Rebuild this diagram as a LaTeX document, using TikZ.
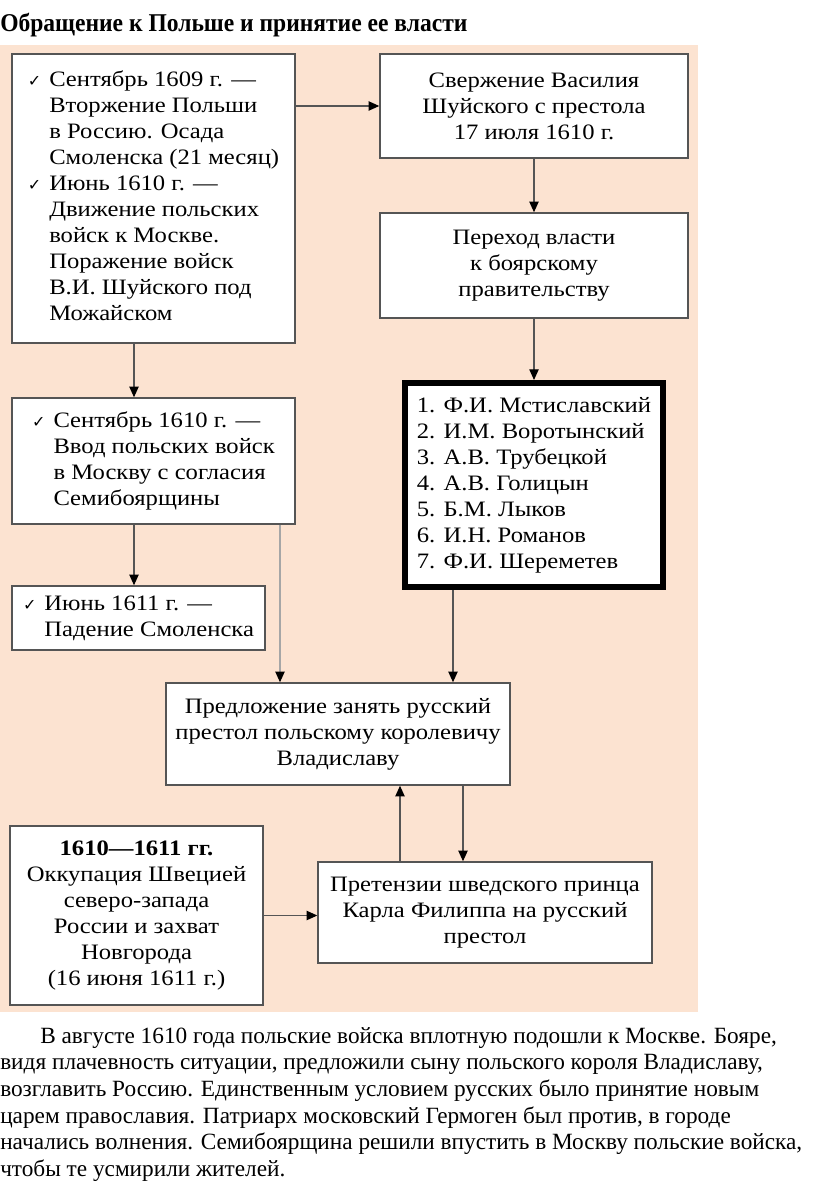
\documentclass[tikz,border=0pt]{standalone}
\usepackage{fontspec}
\setmainfont{Liberation Serif}
\newfontfamily\boxf[FakeStretch=1.12]{Liberation Serif}
\newfontfamily\titlef[FakeStretch=0.92]{Liberation Serif Bold}
\newfontfamily\dv{DejaVu Sans}
\usetikzlibrary{arrows.meta,calc}
\definecolor{peach}{HTML}{FCE3D1}
\definecolor{frame}{HTML}{555555}
\newcommand\chk{{\dv\fontsize{12}{12}\selectfont ✓}}
\begin{document}
\begin{tikzpicture}[x=0.75pt,y=-0.75pt,
 box/.style={draw=frame,line width=1.1pt,fill=white,inner sep=0pt,font=\boxf\fontsize{16.5}{19.5}\selectfont,align=center},
 arr/.style={draw=frame,line width=0.9pt,-{Triangle[length=8pt,width=7pt,color=black]}},
 lightarr/.style={draw=gray!70,line width=0.9pt,-{Triangle[length=8pt,width=7pt,color=black]}},
 para/.style={anchor=base west,inner sep=0pt,font=\fontsize{17.45}{20}\selectfont}
 ]
\useasboundingbox (0,0) rectangle (816,1198);
\fill[peach] (0,45) rectangle (698,1012);
\node[anchor=base west,inner sep=0pt,font=\titlef\fontsize{19.2}{21}\selectfont] (title) at (0,32) {Обращение к Польше и принятие ее власти};

\node[box,minimum width=283*0.75pt,minimum height=289*0.75pt] (A) at (153.5,198.5) {\begin{tabular}{@{}l@{\hspace{6pt}}l@{}}
\chk & Сентябрь 1609 г. —\\
 & Вторжение Польши\\
 & в Россию. Осада\\
 & Смоленска (21 месяц)\\
\chk & Июнь 1610 г. —\\
 & Движение польских\\
 & войск к Москве.\\
 & Поражение войск\\
 & В.И. Шуйского под\\
 & Можайском
\end{tabular}};

\node[box,minimum width=308*0.75pt,minimum height=104*0.75pt] (B) at (534,106) {Свержение Василия\\Шуйского с престола\\17 июля 1610 г.};
\node[box,minimum width=308*0.75pt,minimum height=105*0.75pt] (C) at (534,265.5) {Переход власти\\к боярскому\\правительству};
\node[box,draw=black,line width=4.5pt,align=left,minimum width=258*0.75pt,minimum height=204*0.75pt] (D) at (534,485) {1. Ф.И. Мстиславский\\2. И.М. Воротынский\\3. А.В. Трубецкой\\4. А.В. Голицын\\5. Б.М. Лыков\\6. И.Н. Романов\\7. Ф.И. Шереметев};

\node[box,minimum width=283*0.75pt,minimum height=126*0.75pt] (E) at (153.5,461) {\begin{tabular}{@{}l@{\hspace{6pt}}l@{}}
\chk & Сентябрь 1610 г. —\\
 & Ввод польских войск\\
 & в Москву с согласия\\
 & Семибоярщины
\end{tabular}};
\node[box,minimum width=253*0.75pt,minimum height=64*0.75pt] (F) at (138.5,618) {\begin{tabular}{@{}l@{\hspace{6pt}}l@{}}
\chk & Июнь 1611 г. —\\
 & Падение Смоленска
\end{tabular}};

\node[box,minimum width=344*0.75pt,minimum height=102*0.75pt] (G) at (338,734) {Предложение занять русский\\престол польскому королевичу\\Владиславу};
\node[box,minimum width=253*0.75pt,minimum height=179*0.75pt] (H) at (136.5,915.5) {\textbf{1610—1611 гг.}\\Оккупация Швецией\\северо-запада\\России и захват\\Новгорода\\(16 июня 1611 г.)};
\node[box,minimum width=334*0.75pt,minimum height=101*0.75pt] (I) at (485,912.5) {Претензии шведского принца\\Карла Филиппа на русский\\престол};

\coordinate (a1) at ($(A.south)+(-19.5,0)$);
\coordinate (e1) at ($(E.south)+(-19.5,0)$);
\coordinate (e2) at ($(E.south)+(126.5,0)$);
\coordinate (d1) at ($(D.south)+(-81,0)$);
\coordinate (g1) at ($(G.south)+(125,0)$);
\coordinate (g2) at ($(G.south)+(62,0)$);

\draw[arr] (B.west -| A.east) -- (B.west);
\draw[arr] (B.south) -- (C.north);
\draw[arr] (C.south) -- (D.north);
\draw[arr] (a1) -- (a1 |- E.north);
\draw[arr] (e1) -- (e1 |- F.north);
\draw[lightarr] (e2) -- (e2 |- G.north);
\draw[arr] (d1) -- (d1 |- G.north);
\draw[arr] (g1) -- (g1 |- I.north);
\draw[arr] (g2 |- I.north) -- (g2);
\draw[arr] (H.east) -- (H.east -| I.west);

\node[para] (p1) at (40,1043) {В августе 1610 года польские войска вплотную подошли к Москве. Бояре,};
\node[para] (p2) at (0,1069.7) {видя плачевность ситуации, предложили сыну польского короля Владиславу,};
\node[para] (p3) at (0,1096.4) {возглавить Россию. Единственным условием русских было принятие новым};
\node[para] (p4) at (0,1123.1) {царем православия. Патриарх московский Гермоген был против, в городе};
\node[para] (p5) at (0,1149.8) {начались волнения. Семибоярщина решили впустить в Москву польские войска,};
\node[para] (p6) at (0,1176.5) {чтобы те усмирили жителей.};
\end{tikzpicture}
\end{document}
